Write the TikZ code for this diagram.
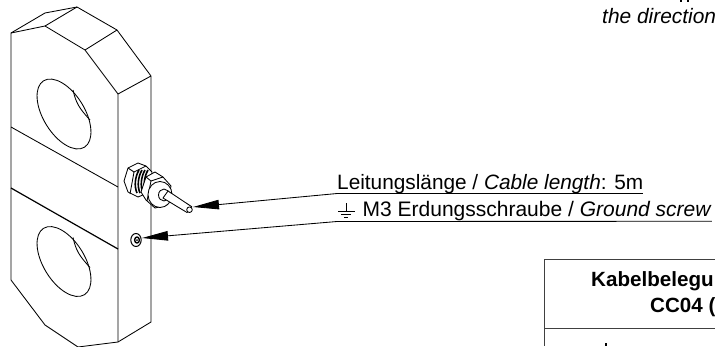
\documentclass[tikz,border=0pt]{standalone}
\usepackage{fontspec}
\setmainfont{Liberation Sans}
\usetikzlibrary{arrows.meta}
\tikzset{
  partline/.style={line width=0.85pt, line join=round},
  glandpart/.style={partline, fill=white},
  labeltext/.style={inner sep=0pt, anchor=base west, font=\fontsize{20.8pt}{24pt}\selectfont},
  leader/.style={line width=0.85pt, -{Triangle[length=26pt, width=9.5pt]}},
  tablerule/.style={line width=1pt, black!75},
  tabletext/.style={inner sep=0pt, anchor=base west, font=\fontsize{20.6pt}{24pt}\selectfont\bfseries}
}

\begin{document}
\begin{tikzpicture}[x=1pt, y=-1pt]
\useasboundingbox (0,0) rectangle (715,346);
\clip (0,0) rectangle (715,346);
\draw[partline] (118,342) -- (78,347) -- (45,325) -- (11,280) -- (11,33) -- (45,13) -- (77,7) -- (117,30) -- (151,76) -- (151,322) -- (118,342);
\draw[partline] (11,33) -- (45,26) -- (85,50) -- (118,94) -- (118,342);
\draw[partline] (45,26) -- (77,7);
\draw[partline] (85,50) -- (117,30);
\draw[partline] (118,94) -- (151,76);
\draw[partline] (11,127) -- (118,187);
\draw[partline, line width=1.2pt] (11,188) -- (118,249);
\draw[partline, rotate around={-58.5:(64,114)}] (64,114) ellipse [x radius=39pt, y radius=20.7pt];
\draw[partline, rotate around={-58.5:(64,261.5)}] (64,261.5) ellipse [x radius=39pt, y radius=20.7pt];
\draw[partline] (73,90) .. controls (76,103) and (79,108) .. (90,120);
\draw[partline] (73,237.5) .. controls (76,250.5) and (79,255.5) .. (90,267.5);
\draw[glandpart] (124,181) -- (128,168) -- (138,163) -- (146,166) -- (152,172) -- (150,192) -- (138,197) -- (128,192) -- cycle;
\draw[partline] (128,168) -- (134,172) -- (130,194);
\draw[partline] (134,172) -- (146,166);
\foreach \dx in {0,3,6,9} {
  \draw[line width=1.6pt] (139+\dx,170) .. controls (135+\dx,177) and (134+\dx,186) .. (137+\dx,193);
}
\draw[glandpart] (141,192) -- (146,177) -- (155,172) -- (163,177) -- (171,186) -- (167,205) -- (155,208) -- (146,200) -- cycle;
\draw[partline] (146,177) -- (151,181) -- (147,201);
\draw[partline] (151,181) -- (163,177);
\draw[glandpart] (160,194.5) ellipse [x radius=12pt, y radius=13pt];
\draw[partline] (164,195) ellipse [x radius=5.5pt, y radius=6pt];
\draw[glandpart] (168,191) -- (191.7,206.7) -- (187,212.5) -- (163,198) -- cycle;
\draw[partline, fill=white] (189.5,209.7) circle (2.8pt);
\draw[partline, fill=white, line width=1pt] (136,240) ellipse [x radius=5.2pt, y radius=6.5pt];
\draw[partline, line width=1.4pt] (137,240) ellipse [x radius=2.4pt, y radius=3pt];
\fill (137,240) circle (1pt);
\node[labeltext] (cablelabel) at (337,189) {Leitungslänge / \textit{Cable length}: 5m};
\node[labeltext, font=\fontsize{21pt}{24pt}\selectfont] (groundlabel) at (362.5,216.7) {M3 Erdungsschraube / \textit{Ground screw}};
\coordinate (cabletip) at (193,207);
\coordinate (screwtip) at (142,238);
\coordinate (groundstart) at (337,221.5);
\draw[line width=0.85pt] (cablelabel.south west) -- (cablelabel.south east);
\draw[line width=0.85pt] (groundstart) -- (groundlabel.south east);
\draw[leader] (cablelabel.south west) -- (cabletip);
\draw[leader] (groundstart) -- (screwtip);
\draw[line width=0.85pt] (346,203) -- (346,211);
\draw[line width=0.85pt] (338,211) -- (355,211);
\draw[line width=0.85pt] (341,214) -- (351,214);
\draw[line width=0.85pt] (344,217) -- (348,217);
\node[labeltext, font=\fontsize{20.9pt}{24pt}\selectfont\itshape] (directionlabel) at (602,23) {the direction};
\fill (680,0) rectangle (681.5,2);
\fill (687,0) rectangle (688.5,2);
\draw[tablerule] (715,259) -- (544,259) -- (544,346);
\draw[tablerule] (544,328) -- (715,328);
\node[tabletext] (tabletitle) at (591,286) {Kabelbelegu};
\node[tabletext] (tablecode) at (650,312) {CC04 (};
\fill (604.7,343) rectangle (606.7,346);
\end{tikzpicture}
\end{document}
